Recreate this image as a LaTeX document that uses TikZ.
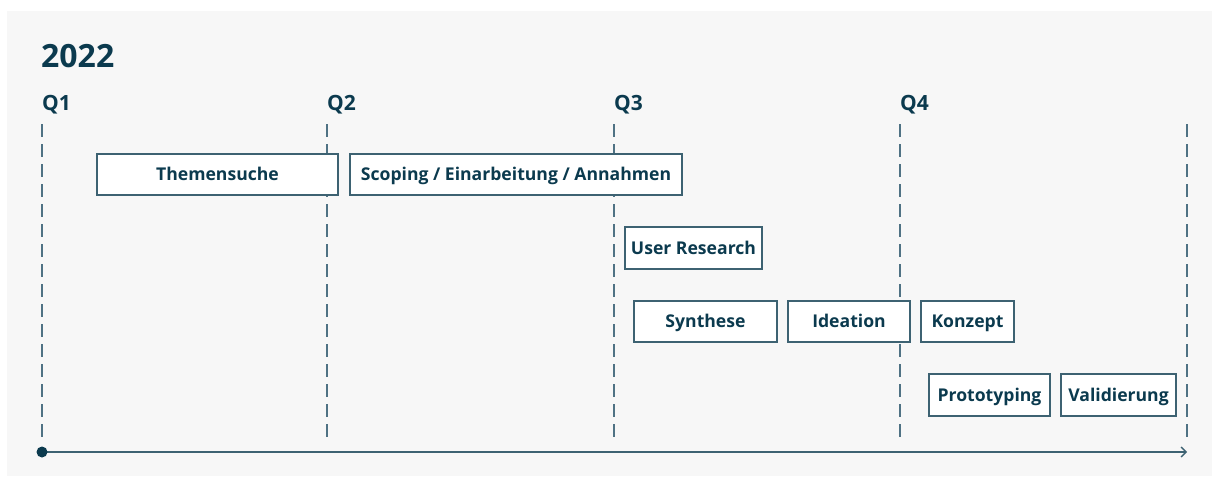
\documentclass[tikz,border=0pt]{standalone}
\usepackage{fontspec}
\setmainfont{Open Sans}
\usetikzlibrary{arrows.meta}
\definecolor{ink}{HTML}{0B3A4E}
\definecolor{boxline}{HTML}{3D6272}
\definecolor{dashline}{HTML}{4F7284}
\definecolor{bg}{HTML}{F7F7F7}
\tikzset{
  phase/.style={draw=boxline, line width=1.4pt, fill=white, text=ink,
    font=\fontsize{17.6}{20}\selectfont\bfseries, inner sep=0pt, anchor=center,
    text height=12.6pt, text depth=0pt},
  qline/.style={draw=dashline, line width=1.3pt, dash pattern=on 13pt off 7pt},
  qlabel/.style={text=ink, font=\fontsize{21}{24}\selectfont\bfseries, anchor=base west, inner sep=0pt},
}
\begin{document}
\begin{tikzpicture}[x=1pt,y=-1pt]
\useasboundingbox (0,0) rectangle (1212,477);
\fill[bg] (7,11) rectangle (1212,476);
\node[text=ink, font=\fontsize{32}{34}\selectfont\bfseries, anchor=base west, inner sep=0pt] (year) at (41,67) {2022};
\foreach \n/\x in {1/42,2/327,3/614,4/900}{
  \node[qlabel] (q\n) at (\x,110) {Q\n};
  \coordinate (t\n) at (\x,124);
  \coordinate (b\n) at (\x,440);
  \draw[qline] (t\n) -- (b\n);
}
\coordinate (t5) at (1187,124);
\coordinate (b5) at (1187,440);
\draw[qline] (t5) -- (b5);
\coordinate (axstart) at (42,452);
\coordinate (axend) at (1187,452);
\draw[draw=boxline, line width=1.5pt, -{Straight Barb[length=5pt,width=10pt,line width=1.3pt]}] (axstart) -- (axend);
\fill[ink] (axstart) circle (5.5pt);
\node[phase, minimum width=241pt, minimum height=41pt] (themen) at (217.5,174.5) {Themensuche};
\node[phase, minimum width=332pt, minimum height=41pt] (scoping) at (516,174.5) {Scoping / Einarbeitung / Annahmen};
\node[phase, minimum width=137pt, minimum height=42pt] (user) at (693.5,248) {User Research};
\node[phase, minimum width=143pt, minimum height=41pt] (synth) at (705.5,321.5) {Synthese};
\node[phase, minimum width=122pt, minimum height=41pt] (idea) at (849,321.5) {Ideation};
\node[phase, minimum width=93pt, minimum height=41pt] (konzept) at (967.5,321.5) {Konzept};
\node[phase, minimum width=121pt, minimum height=42pt] (proto) at (989.5,395) {Prototyping};
\node[phase, minimum width=115pt, minimum height=42pt] (valid) at (1118.5,395) {Validierung};
\end{tikzpicture}
\end{document}
